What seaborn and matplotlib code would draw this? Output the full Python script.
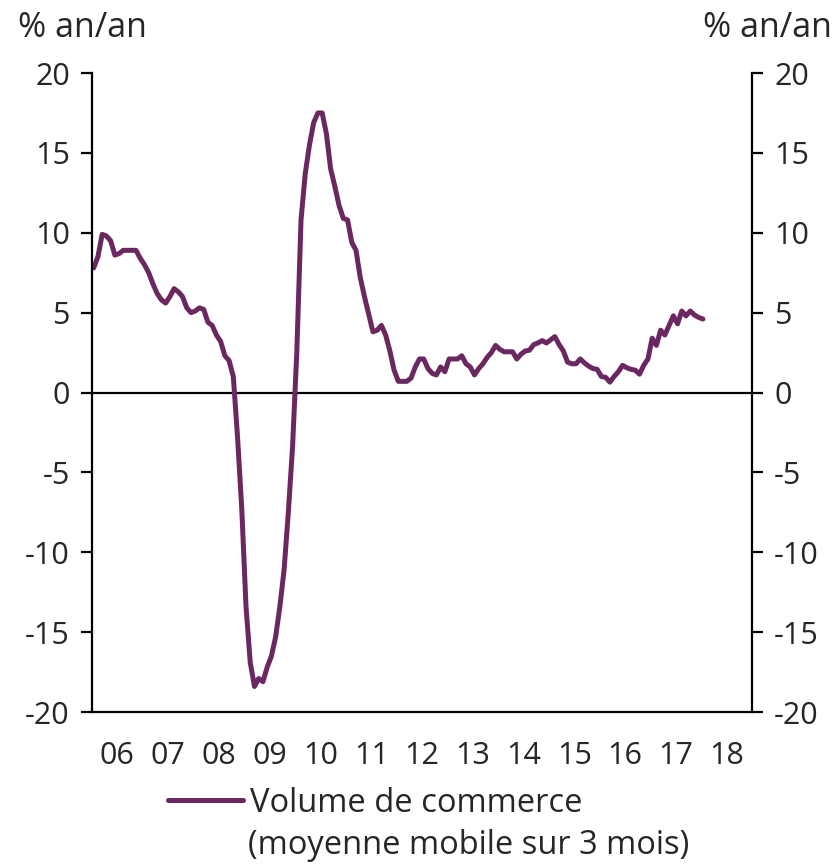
import numpy as np
import pandas as pd
import matplotlib
matplotlib.use('Agg')
import matplotlib.pyplot as plt
import seaborn as sns

# Monthly trade volume, % y/y, 3-month moving average (Jan 2006 onwards)
volume = [
    7.8, 8.5, 9.9, 9.8, 9.5, 8.6, 8.7, 8.9, 8.9, 8.9, 8.9, 8.4,
    8.0, 7.5, 6.8, 6.2, 5.8, 5.6, 6.0, 6.5, 6.3, 6.0, 5.3, 5.0,
    5.1, 5.3, 5.2, 4.4, 4.2, 3.6, 3.2, 2.3, 2.0, 1.0, -2.8, -7.3,
    -13.4, -16.9, -18.4, -17.9, -18.1, -17.2, -16.5, -15.3, -13.4, -11.1, -7.5, -3.4,
    2.5, 10.8, 13.7, 15.5, 16.9, 17.5, 17.5, 16.2, 14.0, 12.9, 11.7, 10.9,
    10.8, 9.4, 8.9, 7.2, 6.0, 4.9, 3.8, 3.9, 4.2, 3.6, 2.6, 1.4,
    0.7, 0.7, 0.7, 0.9, 1.6, 2.1, 2.1, 1.5, 1.2, 1.1, 1.6, 1.3,
    2.1, 2.1, 2.1, 2.3, 1.8, 1.6, 1.1, 1.5, 1.8, 2.2, 2.5, 2.95,
    2.7, 2.55, 2.55, 2.55, 2.1, 2.4, 2.6, 2.65, 3.0, 3.1, 3.25, 3.1,
    3.3, 3.5, 3.0, 2.6, 1.9, 1.8, 1.8, 2.1, 1.85, 1.65, 1.5, 1.45,
    1.0, 0.95, 0.65, 1.0, 1.3, 1.7, 1.55, 1.45, 1.4, 1.15, 1.7, 2.1,
    3.4, 2.95, 3.9, 3.6, 4.2, 4.8, 4.3, 5.1, 4.8, 5.1, 4.85, 4.7,
    4.6,
]
year_labels = ['06', '07', '08', '09', '10', '11', '12', '13', '14', '15', '16', '17', '18']
y_ticks = [-20, -15, -10, -5, 0, 5, 10, 15, 20]
unit_label = '% an/an'
series_label = 'Volume de commerce'
series_note = '(moyenne mobile sur 3 mois)'

# monthly points placed mid-month
dates = pd.date_range('2006-01-01', periods=len(volume), freq='MS')
df = pd.DataFrame({
    'x': dates.year + (dates.month - 0.6) / 12,
    'value': volume,
})

sns.set_style('white')
plt.rcParams['font.family'] = ['Open Sans', 'DejaVu Sans']
plt.rcParams['font.size'] = 22

color = '#6b2860'
fs = 22

fig = plt.figure(figsize=(8.38, 8.64), dpi=100)
ax = fig.add_axes([0.1098, 0.1759, 0.7876, 0.7396])

sns.lineplot(data=df, x='x', y='value', ax=ax, color=color, lw=3.6,
             label=series_label, legend=False)
ax.axhline(0, color='black', lw=1.6, zorder=1)

ax.set_xlim(2006, 2019)
ax.set_ylim(-20, 20)
ax.set_xlabel('')
ax.set_ylabel('')

years = np.arange(2006, 2020)
ax.set_xticks(years)
ax.set_xticklabels([])
ax.set_xticks(years[:-1] + 0.5, minor=True)
ax.set_xticklabels(year_labels, minor=True)
ax.tick_params(axis='x', which='major', direction='inout', length=15,
               width=1.6, color='black')
ax.tick_params(axis='x', which='minor', length=0, pad=21, labelsize=fs)

ax.set_yticks(y_ticks)
ax.set_yticklabels([str(v) for v in y_ticks])
ax.tick_params(axis='y', direction='out', length=8, width=1.6,
               color='black', labelsize=fs, pad=8)

ax2 = ax.twinx()
ax2.set_ylim(-20, 20)
ax2.set_yticks(y_ticks)
ax2.set_yticklabels([str(v) for v in y_ticks])
ax2.tick_params(axis='y', direction='out', length=8, width=1.6,
                color='black', labelsize=fs, pad=8)

for a in (ax, ax2):
    a.spines['top'].set_visible(False)
    for s in ('left', 'right', 'bottom'):
        a.spines[s].set_color('black')
        a.spines[s].set_linewidth(1.6)
ax.spines['right'].set_visible(False)
ax2.spines['left'].set_visible(False)
ax2.spines['bottom'].set_visible(False)

fig.text(18 / 838, 1 - 28 / 864, unit_label, ha='left', va='center', fontsize=24.5)
fig.text(832 / 838, 1 - 28 / 864, unit_label, ha='right', va='center', fontsize=24.5)

handles, labels = ax.get_legend_handles_labels()
fig.legend(handles, labels, loc='center left',
           bbox_to_anchor=(168 / 838, 1 - 803 / 864), frameon=False,
           handlelength=2.3, handletextpad=0.2, borderpad=0, borderaxespad=0,
           fontsize=23.5)
fig.text(248 / 838, 1 - 845 / 864, series_note, ha='left', va='center',
         fontsize=23.5)

fig.savefig('out.png', dpi=100)
